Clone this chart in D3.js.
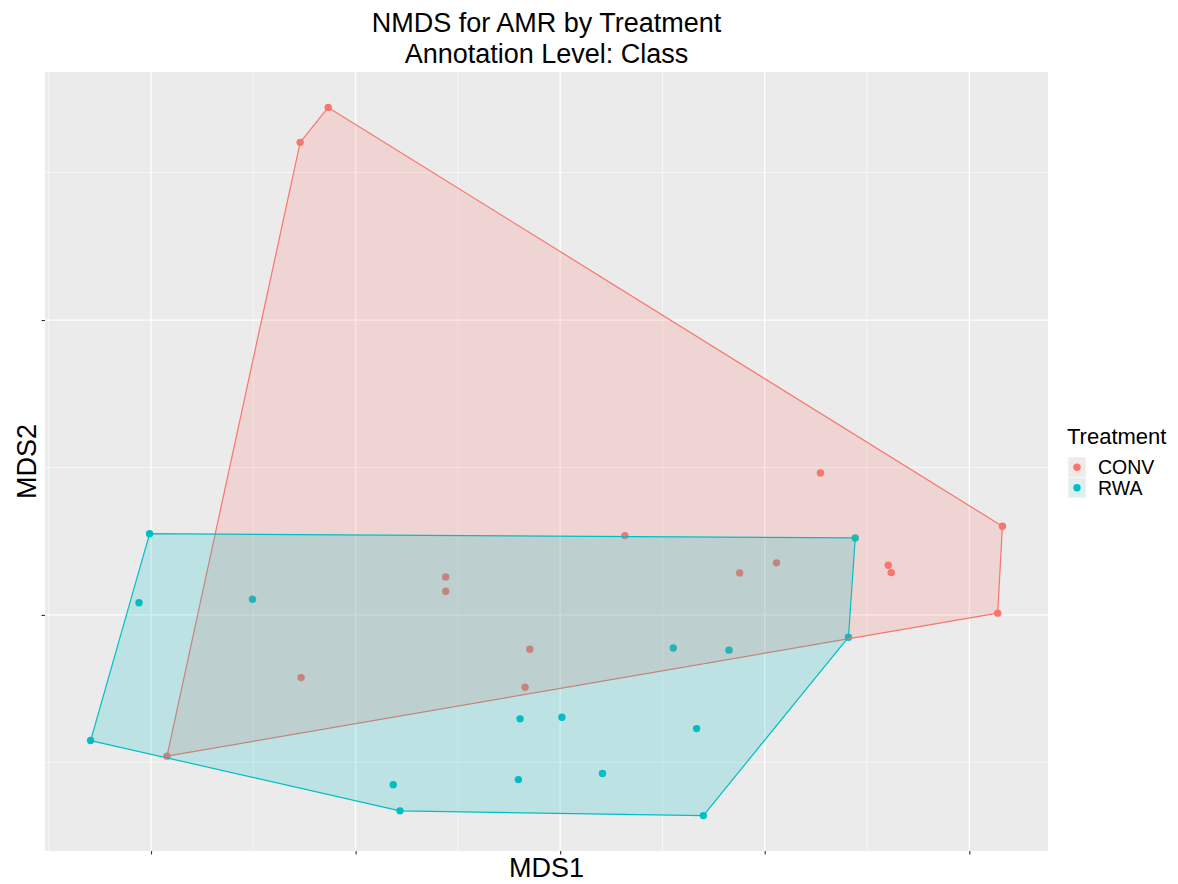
<!DOCTYPE html>
<html>
<head>
<meta charset="utf-8">
<script src="https://cdn.jsdelivr.net/npm/d3@7/dist/d3.min.js"></script>
<style>
  html, body { margin: 0; padding: 0; background: #ffffff; }
  svg { display: block; font-family: "Liberation Sans", Arial, sans-serif; }
</style>
</head>
<body>
<svg id="chart" width="1178" height="884"></svg>
<script>
// NMDS site scores (MDS1, MDS2) per treatment group
const conv_mds1 = [-0.2268, -0.2542, 0.2545, 0.4324, 0.4278, 0.3208, 0.3237, 0.0633,
                   0.1755, 0.2115, -0.1119, -0.1119, -0.0297, -0.0343, -0.2533, -0.3844];
const conv_mds2 = [0.3442, 0.3205, 0.0963, 0.0601, 0.0012, 0.0337, 0.0287, 0.0538,
                   0.0285, 0.0353, 0.0258, 0.0161, -0.0233, -0.0490, -0.0425, -0.0958];
const rwa_mds1 = [-0.4014, -0.4118, -0.3008, -0.4591, -0.1566, 0.1400, 0.2819, 0.2885,
                  0.1106, 0.1651, -0.0392, 0.0017, 0.1334, -0.1632, -0.0408, 0.0414];
const rwa_mds2 = [0.0551, 0.0083, 0.0106, -0.0852, -0.1329, -0.1361, -0.0151, 0.0522,
                  -0.0224, -0.0239, -0.0705, -0.0694, -0.0771, -0.1151, -0.1117, -0.1076];

const treatments = ["CONV", "RWA"];
const treatmentColors = ["#F8766D", "#00BFC4"];

const xMajor = [-0.4, -0.2, 0, 0.2, 0.4];
const xMinor = [-0.5, -0.3, -0.1, 0.1, 0.3];
const yMajor = [0, 0.2];
const yMinor = [-0.1, 0.1, 0.3];

const titleLines = ["NMDS for AMR by Treatment", "Annotation Level: Class"];
const xTitle = "MDS1";
const yTitle = "MDS2";
const legendTitle = "Treatment";

// ---- assemble groups ----
const groups = [
  { name: treatments[0], color: treatmentColors[0],
    pts: conv_mds1.map((x, i) => [x, conv_mds2[i]]) },
  { name: treatments[1], color: treatmentColors[1],
    pts: rwa_mds1.map((x, i) => [x, rwa_mds2[i]]) }
];

const panel = { left: 45, right: 1048, top: 72, bottom: 851 };

// ggplot-style 5% expansion of the data range
function expanded(vals) {
  const [lo, hi] = d3.extent(vals);
  const pad = (hi - lo) * 0.05;
  return [lo - pad, hi + pad];
}
const allX = conv_mds1.concat(rwa_mds1);
const allY = conv_mds2.concat(rwa_mds2);

const x = d3.scaleLinear().domain(expanded(allX)).range([panel.left, panel.right]);
const y = d3.scaleLinear().domain(expanded(allY)).range([panel.bottom, panel.top]);

const svg = d3.select("#chart");

// panel background
svg.append("rect")
  .attr("x", panel.left).attr("y", panel.top)
  .attr("width", panel.right - panel.left)
  .attr("height", panel.bottom - panel.top)
  .attr("fill", "#EBEBEB");

const grid = svg.append("g");
// minor grid
grid.selectAll(".vminor").data(xMinor).join("line")
  .attr("x1", d => x(d)).attr("x2", d => x(d))
  .attr("y1", panel.top).attr("y2", panel.bottom)
  .attr("stroke", "#ffffff").attr("stroke-width", 0.6);
grid.selectAll(".hminor").data(yMinor).join("line")
  .attr("y1", d => y(d)).attr("y2", d => y(d))
  .attr("x1", panel.left).attr("x2", panel.right)
  .attr("stroke", "#ffffff").attr("stroke-width", 0.6);
// major grid
grid.selectAll(".vmajor").data(xMajor).join("line")
  .attr("x1", d => x(d)).attr("x2", d => x(d))
  .attr("y1", panel.top).attr("y2", panel.bottom)
  .attr("stroke", "#ffffff").attr("stroke-width", 1.3);
grid.selectAll(".hmajor").data(yMajor).join("line")
  .attr("y1", d => y(d)).attr("y2", d => y(d))
  .attr("x1", panel.left).attr("x2", panel.right)
  .attr("stroke", "#ffffff").attr("stroke-width", 1.3);

// points
const pointLayer = svg.append("g");
groups.forEach(g => {
  pointLayer.selectAll(null).data(g.pts).join("circle")
    .attr("cx", d => x(d[0])).attr("cy", d => y(d[1]))
    .attr("r", 3.7)
    .attr("fill", g.color);
});

// convex hulls drawn over the points
const hullLayer = svg.append("g");
groups.forEach(g => {
  const hull = d3.polygonHull(g.pts.map(d => [x(d[0]), y(d[1])]));
  hullLayer.append("path")
    .attr("d", "M" + hull.map(p => p.join(",")).join("L") + "Z")
    .attr("fill", g.color).attr("fill-opacity", 0.2)
    .attr("stroke", g.color).attr("stroke-width", 1.2)
    .attr("stroke-linejoin", "round");
});

// axes: ticks only, no labels
const xAxis = svg.append("g")
  .attr("transform", `translate(0,${panel.bottom})`)
  .call(d3.axisBottom(x).tickValues(xMajor).tickFormat("").tickSize(3.5).tickSizeOuter(0));
const yAxis = svg.append("g")
  .attr("transform", `translate(${panel.left},0)`)
  .call(d3.axisLeft(y).tickValues(yMajor).tickFormat("").tickSize(3.5).tickSizeOuter(0));
[xAxis, yAxis].forEach(a => {
  a.select(".domain").remove();
  a.selectAll(".tick line").attr("stroke", "#333333").attr("stroke-width", 1.1);
});

const cx = (panel.left + panel.right) / 2;

// title
svg.append("text")
  .attr("x", cx).attr("text-anchor", "middle")
  .attr("font-size", 27).attr("fill", "#000")
  .selectAll("tspan").data(titleLines).join("tspan")
  .attr("x", cx).attr("y", (d, i) => 32 + i * 30.5)
  .text(d => d);

// axis titles
svg.append("text")
  .attr("x", cx).attr("y", 877)
  .attr("text-anchor", "middle").attr("font-size", 27).attr("fill", "#000")
  .text(xTitle);
svg.append("text")
  .attr("transform", `translate(36,${(panel.top + panel.bottom) / 2}) rotate(-90)`)
  .attr("text-anchor", "middle").attr("font-size", 27).attr("fill", "#000")
  .text(yTitle);

// legend
const legend = svg.append("g");
legend.append("text")
  .attr("x", 1067).attr("y", 444)
  .attr("font-size", 22).attr("fill", "#000")
  .text(legendTitle);
const rows = legend.selectAll("g.row").data(groups).join("g")
  .attr("transform", (d, i) => `translate(1068,${457 + i * 20.5})`);
rows.append("rect")
  .attr("width", 18).attr("height", 20.5)
  .attr("fill", "#F2F2F2");
rows.append("rect")
  .attr("x", 1).attr("y", 1).attr("width", 16).attr("height", 18.5)
  .attr("fill", d => d.color).attr("fill-opacity", 0.08);
rows.append("circle")
  .attr("cx", 9).attr("cy", 10.25).attr("r", 3.7)
  .attr("fill", d => d.color);
rows.append("text")
  .attr("x", 30).attr("y", 17)
  .attr("font-size", 19.5).attr("fill", "#000")
  .text(d => d.name);
</script>
</body>
</html>
